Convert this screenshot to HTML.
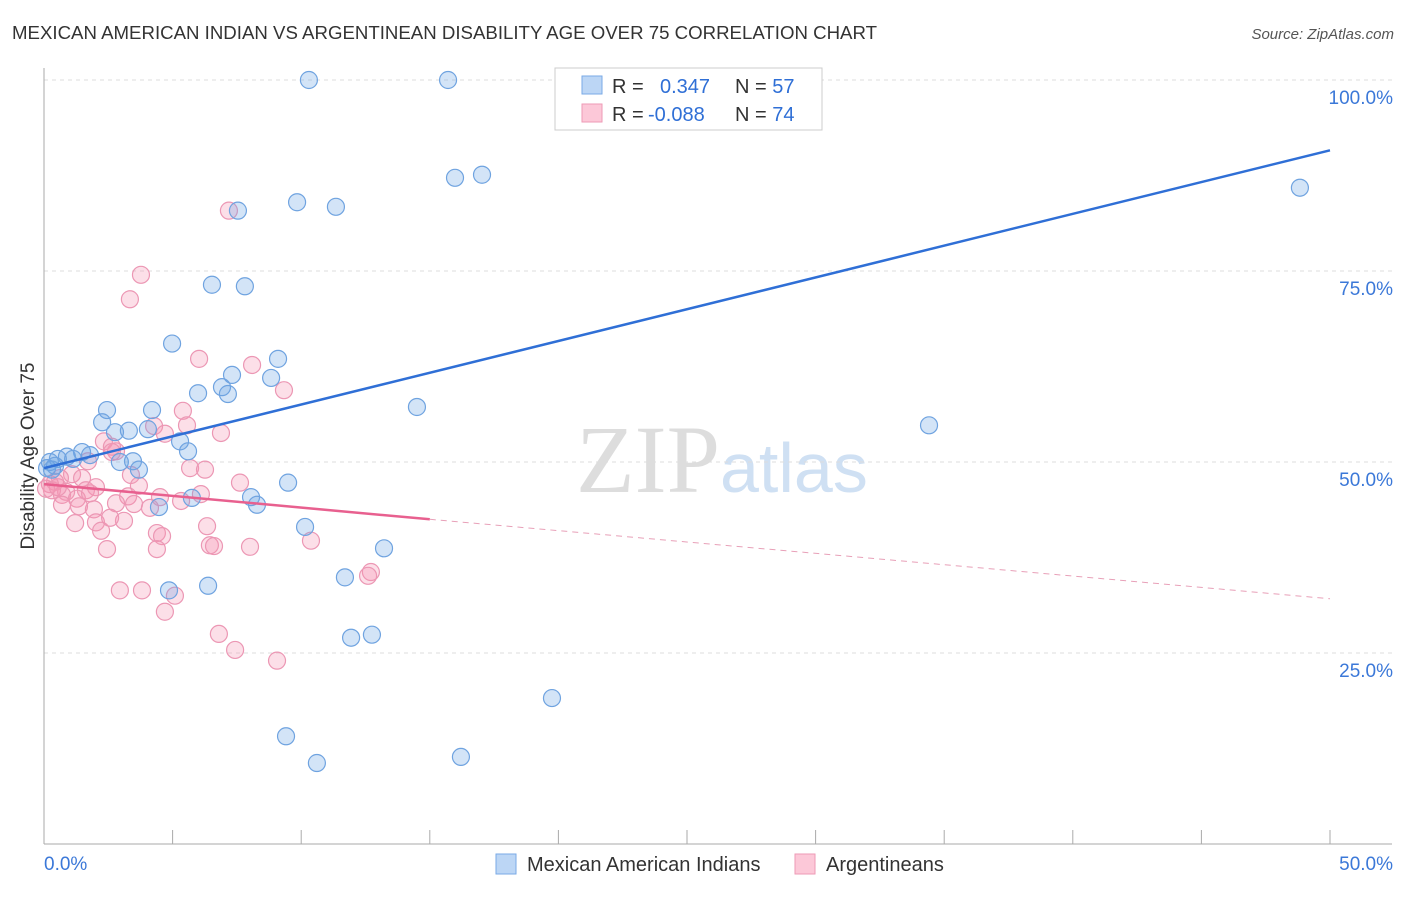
<!DOCTYPE html>
<html><head><meta charset="utf-8"><style>
body{margin:0;background:#fff;font-family:"Liberation Sans",sans-serif}
</style></head><body>
<svg id="chart" width="1406" height="892" xmlns="http://www.w3.org/2000/svg" style="font-family:'Liberation Sans',sans-serif">
<text x="12" y="39" font-size="18" fill="#333" textLength="865" lengthAdjust="spacingAndGlyphs">MEXICAN AMERICAN INDIAN VS ARGENTINEAN DISABILITY AGE OVER 75 CORRELATION CHART</text>
<text x="1394" y="39" font-size="15" fill="#555" text-anchor="end" font-style="italic">Source: ZipAtlas.com</text>
<text x="34" y="456" font-size="19" fill="#333" text-anchor="middle" transform="rotate(-90 34 456)">Disability Age Over 75</text>
<text x="720" y="492" font-size="96" fill="#ddd" text-anchor="end" font-family="Liberation Serif">ZIP</text>
<text x="720" y="492" font-size="70" fill="#cfe0f3">atlas</text>
<g id="grid"></g><g id="axes"></g><g id="pts"></g><g id="trend"></g>
<g>
<rect x="555" y="68" width="267" height="62" fill="#fff" stroke="#ccc"/>
<rect x="582" y="76" width="20" height="18" fill="#bcd6f5" stroke="#7aaae6"/>
<rect x="582" y="104" width="20" height="18" fill="#fcc8d8" stroke="#ee9ab6"/>
<text x="612" y="93" font-size="20" fill="#333">R = <tspan fill="#2f6fd6" x="660">0.347</tspan><tspan fill="#333" x="735">N = </tspan><tspan fill="#2f6fd6">57</tspan></text>
<text x="612" y="121" font-size="20" fill="#333">R = <tspan fill="#2f6fd6" x="648">-0.088</tspan><tspan fill="#333" x="735">N = </tspan><tspan fill="#2f6fd6">74</tspan></text>
</g>
<g>
<rect x="496" y="854" width="20" height="20" fill="#bcd6f5" stroke="#7aaae6"/>
<text x="527" y="871" font-size="20" fill="#333">Mexican American Indians</text>
<rect x="795" y="854" width="20" height="20" fill="#fcc8d8" stroke="#ee9ab6"/>
<text x="826" y="871" font-size="20" fill="#333">Argentineans</text>
</g>
</svg>
<script>
const blueX=[10.30,15.71,22.28,29.28,15.98,17.03,9.84,11.35,7.54,48.83,6.53,7.81,4.98,9.10,7.31,8.83,5.99,6.92,7.15,14.50,34.41,2.45,4.20,2.26,3.30,2.76,4.04,5.29,5.60,1.48,1.79,0.89,1.13,0.54,0.23,0.12,2.95,3.46,3.69,8.05,8.28,9.49,5.75,4.47,10.15,13.22,11.70,4.86,6.38,12.75,11.94,19.75,9.41,16.21,10.61,0.31,0.43];
const blueY=[100,100,100,100,87.2,87.6,84.0,83.4,82.9,85.9,73.2,73.0,65.5,63.5,61.4,61.0,59.0,59.8,58.9,57.2,54.8,56.8,56.8,55.2,54.1,53.9,54.3,52.7,51.4,51.3,50.9,50.7,50.4,50.4,50.0,49.2,50.0,50.1,49.0,45.4,44.4,47.3,45.3,44.1,41.5,38.7,34.9,33.2,33.8,27.4,27.0,19.1,14.1,11.4,10.6,49.0,49.5];
const pinkX=[7.19,3.77,3.34,6.03,8.09,9.33,5.40,6.88,4.28,5.56,4.70,2.33,2.80,2.64,5.68,6.26,3.38,3.69,1.09,1.48,0.62,0.43,0.23,0.86,1.63,2.02,0.70,1.28,1.79,3.27,4.51,6.10,5.33,2.80,3.50,4.12,1.36,1.94,0.70,3.11,2.02,1.21,2.22,6.34,7.62,4.39,4.59,10.38,6.45,6.61,8.01,4.39,2.45,2.95,3.81,5.09,4.70,6.80,7.43,9.06,12.71,12.60,0.31,0.08,0.54,2.57,2.64,1.71];
const pinkY=[82.9,74.5,71.3,63.5,62.7,59.4,56.7,53.8,54.7,54.8,53.7,52.7,51.4,52.0,49.2,49.0,48.3,46.9,48.4,47.9,47.9,47.4,47.1,46.1,46.3,46.7,45.7,45.2,45.9,45.5,45.4,45.8,44.9,44.6,44.5,44.0,44.2,43.8,44.4,42.3,42.1,42.0,41.0,41.6,47.3,40.7,40.3,39.7,39.1,39.0,38.9,38.6,38.6,33.2,33.2,32.5,30.4,27.5,25.4,24.0,35.6,35.1,46.3,46.5,46.7,42.7,51.3,50.1];
const yTicks=[100,75,50,25];
const yTickLabels=["100.0%","75.0%","50.0%","25.0%"];
const xTickLabels=["0.0%","50.0%"];
const blueTrend=[49.2,90.8];
const pinkTrend=[47.1,42.5,32.1];
const sx=v=>44+v*25.72, sy=v=>844-v*7.64;
const NS="http://www.w3.org/2000/svg";
function mk(t,a,p){const e=document.createElementNS(NS,t);for(const k in a)e.setAttribute(k,a[k]);document.getElementById(p).appendChild(e);return e;}
yTicks.forEach((t,i)=>{
 const l=mk('line',{x1:44,x2:1392,y1:sy(t),y2:sy(t),stroke:'#ddd','stroke-dasharray':'4,4'},'grid');
 
 
 const tx=mk('text',{x:1393,y:sy(t)+24,'font-size':19,fill:'#3b78d8','text-anchor':'end'},'axes');
 tx.textContent=yTickLabels[i];
 
 
});
const ax=mk('line',{x1:44,x2:44,y1:68,y2:844,stroke:'#aaa'},'axes');


const bx=mk('line',{x1:44,x2:1392,y1:844,y2:844,stroke:'#aaa'},'axes');


for(let i=0;i<=10;i++){const t=mk('line',{x1:sx(i*5),x2:sx(i*5),y1:830,y2:844,stroke:'#aaa'},'axes');
 
 }
[[0,'start',44],[50,'end',1393]].forEach((d,i)=>{const t=mk('text',{x:d[2],y:870,'font-size':19,fill:'#3b78d8','text-anchor':d[1]},'axes');t.textContent=xTickLabels[i];
 
 });
pinkX.forEach((x,i)=>{const c=mk('circle',{cx:sx(x),cy:sy(pinkY[i]),r:8.5,fill:'rgba(244,150,180,0.3)',stroke:'#ec97b4','stroke-width':1.2},'pts');
 
 });
blueX.forEach((x,i)=>{const c=mk('circle',{cx:sx(x),cy:sy(blueY[i]),r:8.5,fill:'rgba(110,165,230,0.3)',stroke:'#6fa3e0','stroke-width':1.2},'pts');
 
 });
const bt=mk('line',{x1:sx(0),y1:sy(blueTrend[0]),x2:sx(50),y2:sy(blueTrend[1]),stroke:'#2f6fd6','stroke-width':2.5},'trend');


const pt=mk('line',{x1:sx(0),y1:sy(pinkTrend[0]),x2:sx(15),y2:sy(pinkTrend[1]),stroke:'#e8608f','stroke-width':2.5},'trend');


const pd=mk('line',{x1:sx(15),y1:sy(pinkTrend[1]),x2:sx(50),y2:sy(pinkTrend[2]),stroke:'#e8a0b8','stroke-width':1,'stroke-dasharray':'6,5'},'trend');


</script>
</body></html>
